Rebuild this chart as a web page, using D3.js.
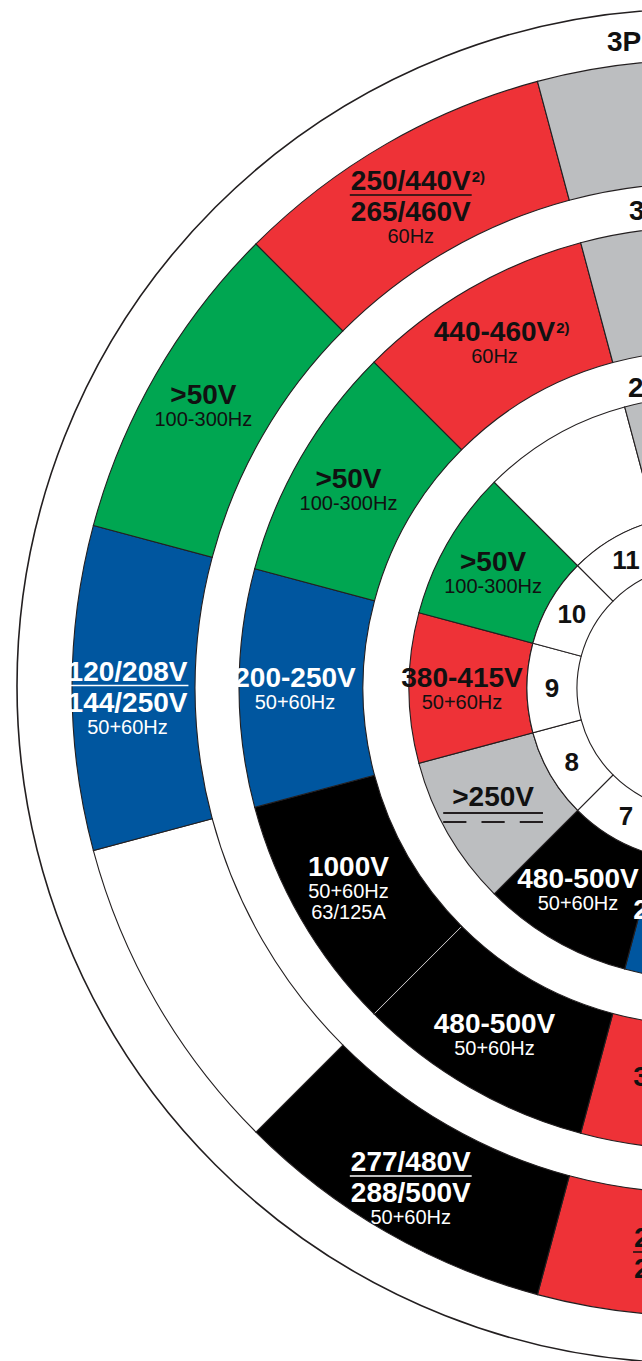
<!DOCTYPE html>
<html>
<head>
<meta charset="utf-8">
<script src="https://cdn.jsdelivr.net/npm/d3@7"></script>
<style>
  html, body { margin: 0; padding: 0; background: #fff; }
  svg { display: block; }
  text { font-family: "Liberation Sans", Arial, Helvetica, sans-serif; }
</style>
</head>
<body>
<script>
// ring names, inner -> outer
var RING_NAMES = ["2P+E", "3P+E", "3P+N+E"];

// clock positions (hours) of the earth contact
var HOURS = [1, 2, 3, 4, 5, 6, 7, 8, 9, 10, 11, 12];

// colour codes used by the segments
var CODES = ["red", "green", "blue", "black", "grey", "white"];

// segments per ring: from/to in clock hours, colour code, label lines
// "^" starts a footnote superscript
var SEG_2PE = [
    {from: 5.5,  to: 6.5,  code: "blue",  text: ["200-250V", "50+60Hz"]},
    {from: 6.5,  to: 7.5,  code: "black", text: ["480-500V", "50+60Hz"]},
    {from: 7.5,  to: 8.5,  code: "grey",  text: [">250V"], dc: true},
    {from: 8.5,  to: 9.5,  code: "red",   text: ["380-415V", "50+60Hz"]},
    {from: 9.5,  to: 10.5, code: "green", text: [">50V", "100-300Hz"]},
    {from: 10.5, to: 11.5, code: "white", text: []},
    {from: 11.5, to: 12.5, code: "grey",  text: []}
];
var SEG_3PE = [
    {from: 5.5,  to: 6.5,  code: "red",   text: ["380-415V", "50+60Hz"]},
    {from: 6.5,  to: 7.5,  code: "black", text: ["480-500V", "50+60Hz"]},
    {from: 7.5,  to: 8.5,  code: "black", text: ["1000V", "50+60Hz", "63/125A"]},
    {from: 8.5,  to: 9.5,  code: "blue",  text: ["200-250V", "50+60Hz"]},
    {from: 9.5,  to: 10.5, code: "green", text: [">50V", "100-300Hz"]},
    {from: 10.5, to: 11.5, code: "red",   text: ["440-460V^2)", "60Hz"]},
    {from: 11.5, to: 12.5, code: "grey",  text: []}
];
var SEG_3PNE = [
    {from: 5.5,  to: 6.5,  code: "red",   text: ["220/380V", "240/415V", "50+60Hz"], frac: true},
    {from: 6.5,  to: 7.5,  code: "black", text: ["277/480V", "288/500V", "50+60Hz"], frac: true},
    {from: 7.5,  to: 8.5,  code: "white", text: []},
    {from: 8.5,  to: 9.5,  code: "blue",  text: ["120/208V", "144/250V", "50+60Hz"], frac: true},
    {from: 9.5,  to: 10.5, code: "green", text: [">50V", "100-300Hz"]},
    {from: 10.5, to: 11.5, code: "red",   text: ["250/440V^2)", "265/460V", "60Hz"], frac: true},
    {from: 11.5, to: 12.5, code: "grey",  text: []}
];

// ---- layout ----
var W = 642, H = 1361;
var CX = 700, CY = 688;
var RING_R = [[173, 291], [337, 461], [505, 628]];
var NUM_R = [123, 173];
var FRAME_R = 677;
var LABEL_DX = -6;
var FRAC_DY = 9;
var BIG = 28, SMALL = 20;
var INK = "#231f20";

var colour = d3.scaleOrdinal()
    .domain(CODES)
    .range(["#ee3237", "#00a651", "#00569f", "#000000", "#bcbec0", "#ffffff"]);

function textColour(code) {
    return (code === "blue" || code === "black") ? "#ffffff" : "#111111";
}

var hourAngle = d3.scaleLinear().domain([0, 12]).range([0, 2 * Math.PI]);

var svg = d3.select("body")
    .append("svg")
    .attr("width", W)
    .attr("height", H);

var g = svg.append("g").attr("transform", "translate(" + CX + "," + CY + ")");

// outer frame circle
g.append("circle")
    .attr("cx", -6)
    .attr("cy", -2)
    .attr("r", FRAME_R)
    .attr("fill", "none")
    .attr("stroke", INK)
    .attr("stroke-width", 1.6);

// draws a label block centred on (x, y)
function drawLabel(parent, d, x, y) {
    if (!d.text.length) return;
    var col = textColour(d.code);
    var lab = parent.append("g").attr("fill", col);
    var items = [];
    var rules = [];
    var bottom, yy, i;
    if (d.frac) {
        items.push({s: d.text[0], big: true, y: 0});
        items.push({s: d.text[1], big: true, y: 31});
        rules.push({y: 5, dash: false});
        yy = 31 + 22;
        for (i = 2; i < d.text.length; i++) {
            items.push({s: d.text[i], big: false, y: yy});
            yy += 21;
        }
        bottom = yy - 21;
    } else {
        items.push({s: d.text[0], big: true, y: 0});
        yy = 22;
        for (i = 1; i < d.text.length; i++) {
            items.push({s: d.text[i], big: false, y: yy});
            yy += 21;
        }
        bottom = d.text.length > 1 ? yy - 21 : 0;
        if (d.dc) {
            rules.push({y: 7, dash: false});
            rules.push({y: 16, dash: true});
            bottom = 16;
        }
    }
    var top = -20;
    var shift = -(top + bottom) / 2 + (d.frac ? FRAC_DY : 0);
    lab.attr("transform", "translate(" + (x + LABEL_DX) + "," + (y + shift) + ")");

    var maxLen = 0;
    items.forEach(function(it) {
        var parts = it.s.split("^");
        var t = lab.append("text")
            .attr("x", 0)
            .attr("y", it.y)
            .attr("text-anchor", "middle")
            .attr("font-size", it.big ? BIG : SMALL)
            .attr("font-weight", it.big ? "bold" : "normal")
            .text(parts[0]);
        var len = t.node().getComputedTextLength();
        if (it.big) maxLen = Math.max(maxLen, len);
        if (parts[1]) {
            lab.append("text")
                .attr("x", len / 2 + 1)
                .attr("y", it.y - 8)
                .attr("font-size", 15)
                .attr("font-weight", "bold")
                .text(parts[1]);
        }
    });
    rules.forEach(function(r) {
        var w = d.dc ? maxLen + 18 : maxLen + 2;
        var ln = lab.append("line")
            .attr("x1", -w / 2).attr("x2", w / 2)
            .attr("y1", r.y).attr("y2", r.y)
            .attr("stroke", d.dc ? INK : col)
            .attr("stroke-width", d.dc ? 2.2 : 1.5);
        if (r.dash) {
            var dash = w / 4.3;
            ln.attr("stroke-dasharray", dash + "," + (w - 3 * dash) / 2);
        }
    });
}

var SEGMENTS = [SEG_2PE, SEG_3PE, SEG_3PNE];

SEGMENTS.forEach(function(segs, i) {
    var r0 = RING_R[i][0], r1 = RING_R[i][1];
    var arc = d3.arc()
        .innerRadius(r0)
        .outerRadius(r1)
        .startAngle(function(d) { return hourAngle(d.from); })
        .endAngle(function(d) { return hourAngle(d.to); });

    var ring = g.append("g").attr("class", "ring");

    ring.selectAll("path")
        .data(segs)
        .enter().append("path")
        .attr("d", arc)
        .attr("fill", function(d) { return colour(d.code); })
        .attr("stroke", INK)
        .attr("stroke-width", 1.1);

    // light divider between two black neighbours
    segs.forEach(function(d, j) {
        var n = segs[j + 1];
        if (n && d.code === "black" && n.code === "black") {
            var a = hourAngle(d.to);
            ring.append("line")
                .attr("x1", (r0 + 1) * Math.sin(a)).attr("y1", -(r0 + 1) * Math.cos(a))
                .attr("x2", (r1 - 1) * Math.sin(a)).attr("y2", -(r1 - 1) * Math.cos(a))
                .attr("stroke", "#bdbdbd")
                .attr("stroke-width", 1);
        }
    });

    segs.forEach(function(d) {
        var c = arc.centroid(d);
        drawLabel(ring, d, c[0], c[1]);
    });
});

// clock number ring
var numArc = d3.arc()
    .innerRadius(NUM_R[0])
    .outerRadius(NUM_R[1])
    .startAngle(function(h) { return hourAngle(h - 0.5); })
    .endAngle(function(h) { return hourAngle(h + 0.5); });

var nums = g.append("g").attr("class", "hours");
nums.selectAll("path")
    .data(HOURS)
    .enter().append("path")
    .attr("d", numArc)
    .attr("fill", "#fff")
    .attr("stroke", INK)
    .attr("stroke-width", 1.1);

nums.selectAll("text")
    .data(HOURS)
    .enter().append("text")
    .attr("x", function(h) { return numArc.centroid(h)[0]; })
    .attr("y", function(h) { return numArc.centroid(h)[1] + 9; })
    .attr("text-anchor", "middle")
    .attr("font-size", 26)
    .attr("font-weight", "bold")
    .attr("fill", "#111")
    .text(function(h) { return h; });

// ring names at 12 o'clock, in the white bands
var NAME_POS = [[-72, -291], [-71, -468], [-93, -637]];
g.selectAll(".ringname")
    .data(RING_NAMES)
    .enter().append("text")
    .attr("class", "ringname")
    .attr("x", function(d, i) { return NAME_POS[i][0]; })
    .attr("y", function(d, i) { return NAME_POS[i][1]; })
    .attr("font-size", 28)
    .attr("font-weight", "bold")
    .attr("fill", "#111")
    .text(function(d) { return d; });
</script>
</body>
</html>
